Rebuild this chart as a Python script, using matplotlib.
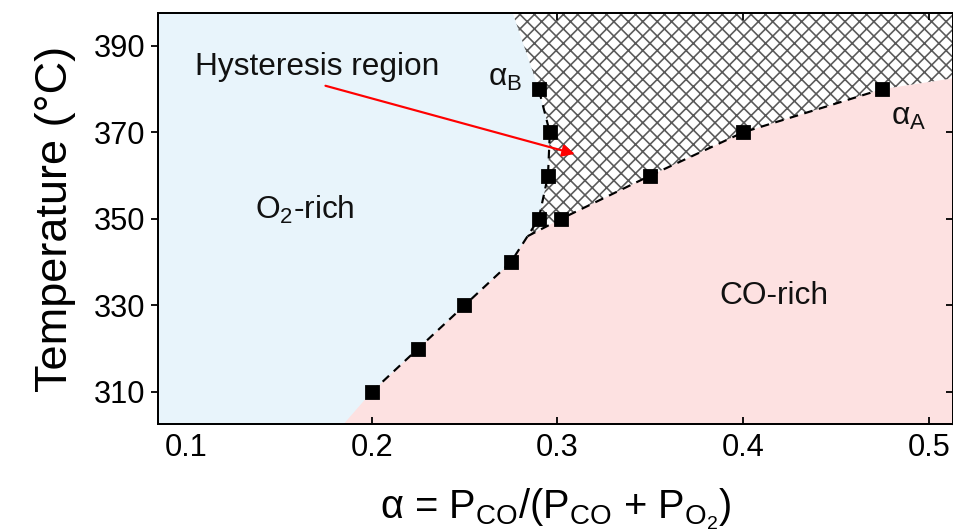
import numpy as np
import matplotlib.pyplot as plt

plt.rcParams['font.family'] = ['Liberation Sans', 'DejaVu Sans']
plt.rcParams['mathtext.fontset'] = 'custom'
plt.rcParams['mathtext.rm'] = 'Liberation Sans'
plt.rcParams['mathtext.it'] = 'Liberation Sans:italic'
plt.rcParams['hatch.linewidth'] = 0.9

# 数据点: alpha_B 分支 (左), alpha_A 分支 (右)
alpha_B = [0.200, 0.225, 0.250, 0.275, 0.290, 0.295, 0.296, 0.290]
T_B = [310, 320, 330, 340, 350, 360, 370, 380]
alpha_A = [0.302, 0.350, 0.400, 0.475]
T_A = [350, 360, 370, 380]

# 区域边界的延伸点
B_bottom = (0.185, 302.6)
B_top = (0.276, 397.6)
A_join = (0.284, 346.0)
A_edge = (0.513, 382.5)

xmin, xmax = 0.085, 0.513
ymin, ymax = 302.6, 397.6

dpi = 130
fig = plt.figure(figsize=(953 / dpi, 532 / dpi), dpi=dpi)
ax = fig.add_axes([0.1658, 0.203, 0.834, 0.7726])
ax.set_facecolor('#fde1e1')

# 迟滞区 (网格阴影)
hx = [xmin, A_join[0]] + alpha_A + [A_edge[0], xmax, xmin]
hy = [A_join[1], A_join[1]] + T_A + [A_edge[1], ymax, ymax]
ax.fill(hx, hy, facecolor='white', edgecolor='#5a5a5a', hatch='xxx', linewidth=0, zorder=1)

# O2-rich 区域
bx = [B_bottom[0]] + alpha_B + [B_top[0], xmin, xmin]
by = [B_bottom[1]] + T_B + [B_top[1], ymax, ymin]
ax.fill(bx, by, facecolor='#e8f4fb', edgecolor='none', zorder=2)

# 虚线
ax.plot(alpha_B, T_B, color='black', ls=(0, (4, 3)), lw=1.2, zorder=3)
ax.plot([A_join[0]] + alpha_A, [A_join[1]] + T_A, color='black', ls=(0, (4, 3)), lw=1.2, zorder=3)

# 方块点
ax.plot(alpha_B, T_B, 's', color='black', ms=7.2, zorder=4)
ax.plot(alpha_A, T_A, 's', color='black', ms=7.2, zorder=4)

# 文字标注
tc = '#111111'
ax.text(0.164, 352, 'O$_2$-rich', fontsize=17.5, ha='center', va='center', color=tc, zorder=5)
ax.text(0.4164, 332.2, 'CO-rich', fontsize=17.5, ha='center', va='center', color=tc, zorder=5)
ax.text(0.272, 382.6, 'α$_{\\rm B}$', fontsize=17.5, ha='center', va='center', color=tc, zorder=5)
ax.text(0.489, 373.6, 'α$_{\\rm A}$', fontsize=17.5, ha='center', va='center', color=tc, zorder=5)
ax.text(0.105, 385.2, 'Hysteresis region', fontsize=17.5, ha='left', va='center', color=tc, zorder=5)
ax.annotate('', xy=(0.3113, 364.8), xytext=(0.1733, 381),
            arrowprops=dict(arrowstyle='-|>', color='red', lw=1.2, mutation_scale=14),
            zorder=5)

ax.set_xlim(xmin, xmax)
ax.set_ylim(ymin, ymax)
ax.set_xticks([0.1, 0.2, 0.3, 0.4, 0.5])
ax.set_yticks([310, 330, 350, 370, 390])

for s in ax.spines.values():
    s.set_linewidth(1.1)
ax.tick_params(axis='x', direction='in', top=True, length=4, width=1, labelsize=17, pad=5)
ax.tick_params(axis='y', direction='out', length=4, width=1, labelsize=17, pad=3)

# 右侧向内刻度
ax_r = ax.secondary_yaxis('right')
ax_r.set_yticks([310, 330, 350, 370, 390])
ax_r.tick_params(direction='in', length=4, width=1, labelright=False)

ax.set_xlabel('α = P$_{\\rm CO}$/(P$_{\\rm CO}$ + P$_{\\rm O_2}$)', fontsize=22, labelpad=13)
ax.set_ylabel('Temperature (°C)', fontsize=25, labelpad=10)

fig.savefig('out.png', dpi=dpi)
